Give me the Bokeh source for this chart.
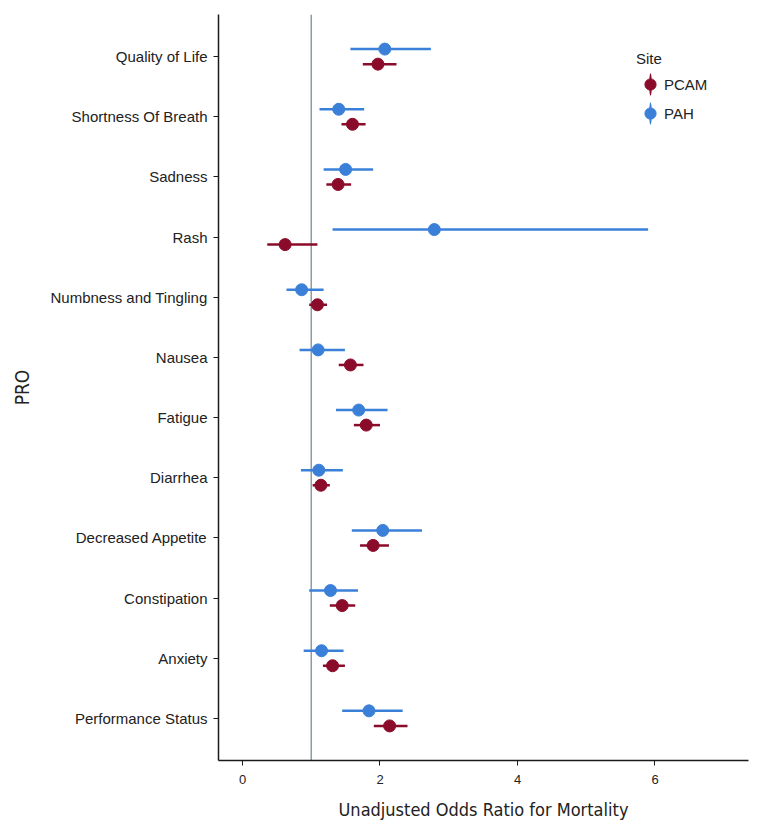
from bokeh.plotting import figure
from bokeh.models import (ColumnDataSource, FactorRange, Range1d, Span, Legend,
                          LegendItem, FixedTicker)
from bokeh.transform import dodge
from bokeh.embed import file_html
from bokeh.resources import INLINE

# ---- data ----
pros = ["Quality of Life", "Shortness Of Breath", "Sadness", "Rash",
        "Numbness and Tingling", "Nausea", "Fatigue", "Diarrhea",
        "Decreased Appetite", "Constipation", "Anxiety", "Performance Status"]

pah_or = [2.07, 1.40, 1.50, 2.79, 0.86, 1.10, 1.69, 1.11, 2.04, 1.28, 1.15, 1.84]
pah_lo = [1.57, 1.12, 1.18, 1.31, 0.64, 0.83, 1.36, 0.85, 1.59, 0.97, 0.89, 1.45]
pah_hi = [2.74, 1.77, 1.90, 5.90, 1.18, 1.49, 2.11, 1.46, 2.61, 1.68, 1.47, 2.33]

pcam_or = [1.97, 1.60, 1.39, 0.62, 1.09, 1.57, 1.80, 1.14, 1.90, 1.45, 1.31, 2.14]
pcam_lo = [1.75, 1.44, 1.22, 0.36, 0.97, 1.40, 1.62, 1.02, 1.71, 1.27, 1.17, 1.91]
pcam_hi = [2.24, 1.79, 1.58, 1.09, 1.23, 1.76, 2.00, 1.27, 2.13, 1.64, 1.49, 2.40]

ref_or = 1.0
x_ticks = [0, 2, 4, 6]

PCAM_COLOR = "#8B0B2A"
PAH_COLOR = "#3A80D8"

src_pah = ColumnDataSource(dict(pro=pros, est=pah_or, lo=pah_lo, hi=pah_hi))
src_pcam = ColumnDataSource(dict(pro=pros, est=pcam_or, lo=pcam_lo, hi=pcam_hi))

p = figure(width=754, height=828, output_backend="svg", toolbar_location=None,
           x_range=Range1d(-0.349, 7.36),
           y_range=FactorRange(factors=pros[::-1], range_padding=0.2,
                               range_padding_units="absolute"),
           min_border_left=218, min_border_right=6, min_border_top=14,
           min_border_bottom=68)

p.outline_line_color = None
p.xgrid.visible = False
p.ygrid.visible = False
p.background_fill_color = "white"
p.border_fill_color = "white"

ref = Span(location=ref_or, dimension="height", line_color="#8D9DA5",
           line_width=1.5, level="underlay")
p.add_layout(ref)

DY = 0.125
y_pah = dodge("pro", DY, range=p.y_range)
y_pcam = dodge("pro", -DY, range=p.y_range)

# PAH
p.segment(x0="lo", x1="hi", y0=y_pah, y1=y_pah, source=src_pah,
          line_color=PAH_COLOR, line_width=2.5)
# thin vertical key (hidden under each dot; used for the legend pointrange key)
key_pah = p.ellipse(x="est", y=y_pah, width=1.2, height=10, width_units="screen",
                    height_units="screen", source=src_pah,
                    fill_color=PAH_COLOR, line_color=None)
dot_pah = p.scatter(x="est", y=y_pah, source=src_pah, size=12, marker="circle",
                    fill_color=PAH_COLOR, line_color=PAH_COLOR)

# PCAM
p.segment(x0="lo", x1="hi", y0=y_pcam, y1=y_pcam, source=src_pcam,
          line_color=PCAM_COLOR, line_width=2.5)
key_pcam = p.ellipse(x="est", y=y_pcam, width=1.2, height=10, width_units="screen",
                     height_units="screen", source=src_pcam,
                     fill_color=PCAM_COLOR, line_color=None)
dot_pcam = p.scatter(x="est", y=y_pcam, source=src_pcam, size=12, marker="circle",
                     fill_color=PCAM_COLOR, line_color=PCAM_COLOR)

legend = Legend(items=[LegendItem(label="PCAM", renderers=[key_pcam, dot_pcam], index=0),
                       LegendItem(label="PAH", renderers=[key_pah, dot_pah], index=0)],
                location=(418, 633), title="Site",
                title_text_font="Liberation Sans", title_text_font_size="15px",
                title_text_font_style="normal", title_text_color="#222222",
                title_standoff=3,
                label_text_font="Liberation Sans", label_text_font_size="15px",
                label_text_color="#222222",
                glyph_width=28, glyph_height=28, label_standoff=-1, spacing=1,
                padding=0, margin=0, border_line_color=None,
                background_fill_alpha=0)
p.add_layout(legend)

# axes
for ax in (p.xaxis[0], p.yaxis[0]):
    ax.axis_line_color = "#1a1a1a"
    ax.axis_line_width = 1.5
    ax.major_tick_line_color = "#1a1a1a"
    ax.major_tick_in = 0
    ax.major_tick_out = 5
    ax.minor_tick_line_color = None
    ax.axis_label_text_font = "DejaVu Sans Condensed"
    ax.axis_label_text_font_style = "normal"
    ax.axis_label_text_color = "#222222"

p.xaxis.ticker = FixedTicker(ticks=x_ticks)
p.xaxis.major_label_text_font = "Liberation Sans"
p.xaxis.major_label_text_font_size = "13px"
p.xaxis.major_label_text_color = "#222222"
p.xaxis.major_label_standoff = 9
p.xaxis.axis_label = "Unadjusted Odds Ratio for Mortality"
p.xaxis.axis_label_text_font_size = "18px"
p.xaxis.axis_label_standoff = 12

p.yaxis.major_label_text_font = "Liberation Sans"
p.yaxis.major_label_text_font_size = "15px"
p.yaxis.major_label_text_color = "#222222"
p.yaxis.major_label_standoff = 6
p.yaxis.axis_label = "PRO"
p.yaxis.axis_label_text_font_size = "19px"
p.yaxis.axis_label_standoff = 14

open("out.html", "w").write(file_html(p, INLINE))
